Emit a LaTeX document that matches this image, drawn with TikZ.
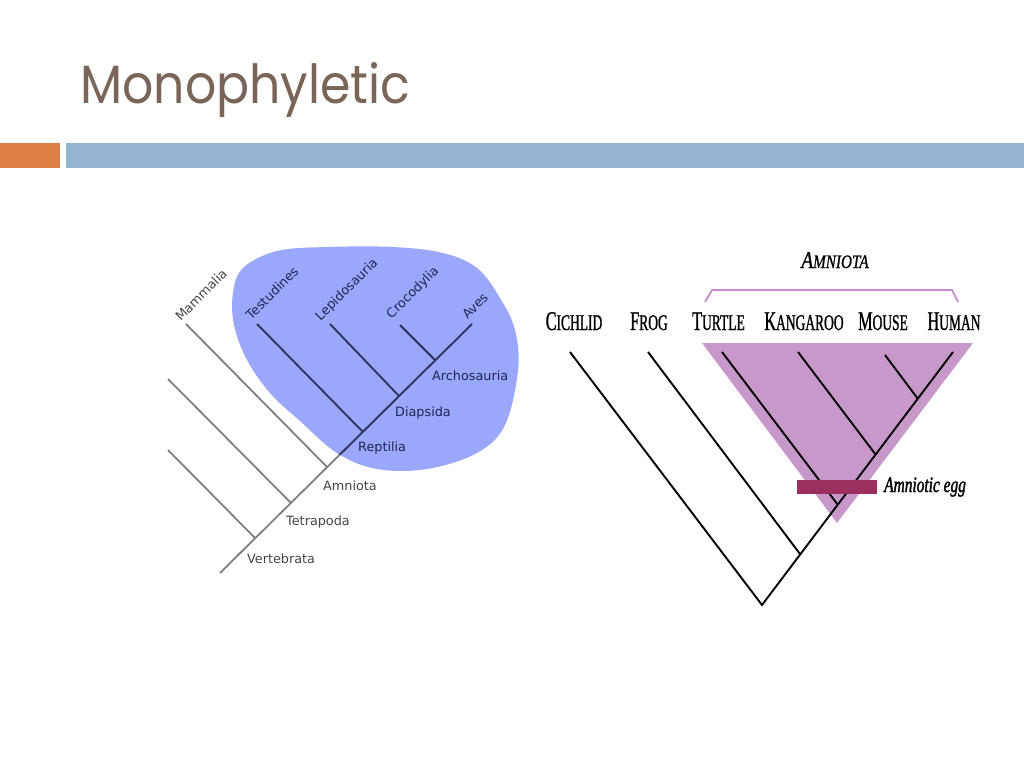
\documentclass[tikz,border=0pt]{standalone}
\usepackage{fontspec}
\setmainfont{DejaVu Sans}
\newfontfamily\titlefont{Poppins}
\newfontfamily\taxfont[FakeStretch=0.6,FakeBold=1]{Liberation Serif}
\newfontfamily\amfont[FakeStretch=0.8,FakeBold=1]{Liberation Serif}
\newfontfamily\eggfont[FakeStretch=0.7,FakeBold=1.5]{Liberation Serif}
\newcommand\smc[2]{{\fontsize{27}{27}\selectfont #1}{\fontsize{22.5}{22.5}\selectfont #2}}
\definecolor{titlec}{HTML}{7A6558}
\definecolor{orangebar}{HTML}{DD8047}
\definecolor{bluebar}{HTML}{94B6D2}
\definecolor{blobc}{HTML}{9AA8FC}
\definecolor{navyline}{HTML}{2E3468}
\definecolor{navytext}{HTML}{1E2454}
\definecolor{grayline}{HTML}{808080}
\definecolor{graytext}{HTML}{454545}
\definecolor{trianglec}{HTML}{C898CB}
\definecolor{eggc}{HTML}{9B2F5E}
\definecolor{bracketc}{HTML}{C88CD2}
\tikzset{
  ltree/.style={line width=1.8pt},
  rtree/.style={line width=1.9pt, black},
  leftlab/.style={font=\fontsize{12.8}{14}\selectfont, inner sep=0pt},
  toplab/.style={leftlab, rotate=45},
  taxlab/.style={font=\taxfont, inner sep=0pt, anchor=base},
}
\newcommand\lefttreelines[1]{%
  \draw[ltree,#1] (lroot) -- (aves);
  \draw[ltree,#1] (nV) -- (cut1);
  \draw[ltree,#1] (nT) -- (cut2);
  \draw[ltree,#1] (nA) -- (mamm);
  \draw[ltree,#1] (nR) -- (test);
  \draw[ltree,#1] (nD) -- (lepi);
  \draw[ltree,#1] (nAr) -- (croc);
}
\newcommand\blobpath{plot[smooth cycle, tension=0.6] coordinates {
  (233,293) (243,268) (277,251) (327,247) (393,247) (443,253) (477,268)
  (500,298) (515,330) (518,370) (505,425) (477,453) (427,469) (377,469)
  (337,453) (300,421) (270,393) (247,360) (234,325)}}
\begin{document}
\begin{tikzpicture}[x=1pt,y=-1pt]
\useasboundingbox (0,0) rectangle (1024,768);
\fill[white] (0,0) rectangle (1024,768);

% title and bars
\node[anchor=base west, inner sep=0pt, text=titlec] (title) at (80,103)
  {\resizebox{330pt}{41pt}{\titlefont Monophyletic}};
\fill[orangebar] (0,143) rectangle (60,168);
\fill[bluebar] (66,143) rectangle (1024,168);

% ---------- left tree ----------
\coordinate (lroot) at (220,573);
\coordinate (nV) at (255,538);
\coordinate (nT) at (291,503);
\coordinate (nA) at (327,467);
\coordinate (nR) at (363,432);
\coordinate (nD) at (399,396);
\coordinate (nAr) at (435,360);
\coordinate (aves) at (472,324);
\coordinate (cut1) at (168,450);
\coordinate (cut2) at (168,379);
\coordinate (mamm) at (186,324);
\coordinate (test) at (257,324);
\coordinate (lepi) at (330,324);
\coordinate (croc) at (400,325);

\fill[blobc] \blobpath;
\lefttreelines{grayline}
\begin{scope}
  \clip \blobpath;
  \lefttreelines{navyline}
\end{scope}

\node[toplab, text=graytext] (lMamm) at (201,295) {Mammalia};
\node[toplab, text=navytext] (lTest) at (272,293) {Testudines};
\node[toplab, text=navytext] (lLepi) at (347,290) {Lepidosauria};
\node[toplab, text=navytext] (lCroc) at (413,293) {Crocodylia};
\node[toplab, text=navytext] (lAves) at (475,306) {Aves};
\node[leftlab, anchor=base west, text=navytext] (lArch) at (432,380) {Archosauria};
\node[leftlab, anchor=base west, text=navytext] (lDiap) at (395,416) {Diapsida};
\node[leftlab, anchor=base west, text=navytext] (lRept) at (358,451.5) {Reptilia};
\node[leftlab, anchor=base west, text=graytext] (lAmni) at (323,490) {Amniota};
\node[leftlab, anchor=base west, text=graytext] (lTetr) at (286,525) {Tetrapoda};
\node[leftlab, anchor=base west, text=graytext] (lVert) at (247,563) {Vertebrata};

% ---------- right tree ----------
\coordinate (rroot) at (762,605);
\coordinate (nFrog) at (800,554);
\coordinate (nTurt) at (838,505);
\coordinate (nKang) at (876,455);
\coordinate (nMous) at (918,399);
\coordinate (tHum) at (953,352);
\coordinate (tCich) at (570,352);
\coordinate (tFrog) at (648,352);
\coordinate (tTurt) at (722,352);
\coordinate (tKang) at (798,352);
\coordinate (tMous) at (885,355);

\fill[trianglec] (702,343) -- (973,343) -- (837,523) -- cycle;

\draw[rtree] (tCich) -- (rroot) -- (tHum);
\draw[rtree] (tFrog) -- (nFrog);
\draw[rtree] (tTurt) -- (nTurt);
\draw[rtree] (tKang) -- (nKang);
\draw[rtree] (tMous) -- (nMous);

\fill[eggc] (797,480) rectangle (877,494);
\node[anchor=base west, inner sep=0pt, font=\eggfont\itshape\fontsize{22}{22}\selectfont] (egg) at (884,492) {Amniotic egg};

\node[taxlab] (xCich) at (574,330) {\smc{C}{ICHLID}};
\node[taxlab] (xFrog) at (649,330) {\smc{F}{ROG}};
\node[taxlab] (xTurt) at (718.5,330) {\smc{T}{URTLE}};
\node[taxlab] (xKang) at (804,330) {\smc{K}{ANGAROO}};
\node[taxlab] (xMous) at (883,330) {\smc{M}{OUSE}};
\node[taxlab] (xHum) at (954,330) {\smc{H}{UMAN}};

\coordinate (bA) at (705,302);
\coordinate (bB) at (712,290);
\coordinate (bC) at (952,290);
\coordinate (bD) at (958,302);
\draw[bracketc, line width=1.8pt] (bA) -- (bB) -- (bC) -- (bD);
\node[anchor=base, inner sep=0pt, font=\amfont\itshape] (amn) at (835,268)
  {{\fontsize{24}{24}\selectfont A}{\fontsize{19}{19}\selectfont MNIOTA}};
\end{tikzpicture}
\end{document}
